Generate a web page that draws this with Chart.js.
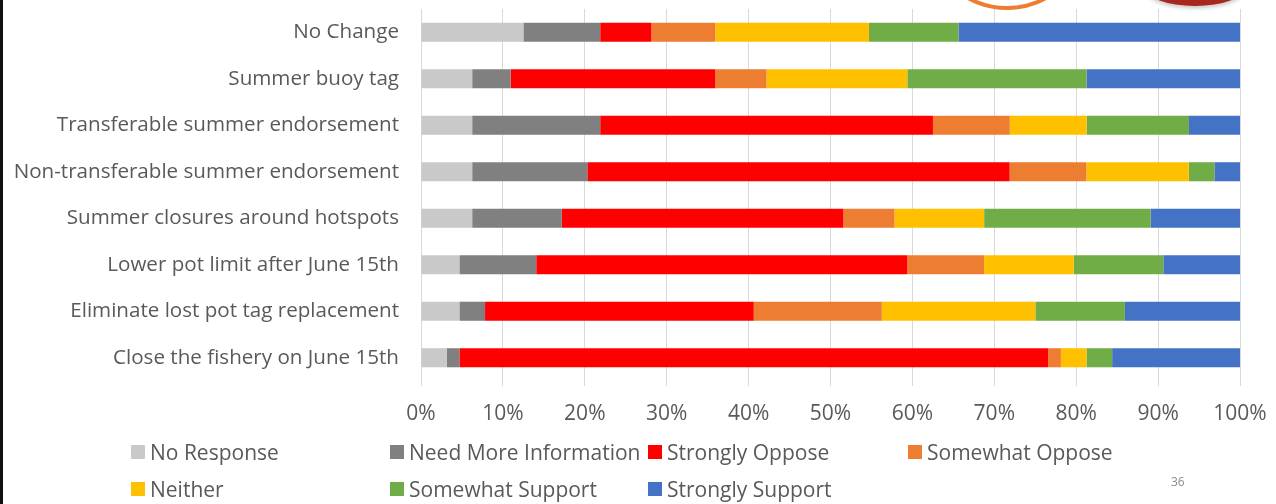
<!DOCTYPE html>
<html>
<head>
<meta charset="utf-8">
<script src="https://cdn.jsdelivr.net/npm/chart.js@4"></script>
<style>
    html, body { margin: 0; padding: 0; background: #fff; }
    body { width: 1276px; height: 504px; position: relative; overflow: hidden; font-family: "Open Sans", sans-serif; }
    #frame { position: absolute; left: 0; top: 0; width: 3px; height: 504px; background: #111; }
    #ring { position: absolute; left: 924px; top: -156px; width: 158px; height: 158px; border: 4px solid #ed7d31; border-radius: 50%; }
    #blob { position: absolute; left: 1145px; top: -32px; width: 100px; height: 38px; border-radius: 50%; background: #a8261d; box-shadow: 0 2px 4px rgba(0,0,0,0.25); }
    #chart-wrap { position: absolute; left: 0; top: 0; width: 1276px; height: 430px; }
    #legend { position: absolute; left: 0; top: 0; width: 1276px; height: 504px; pointer-events: none; }
    .item { position: absolute; height: 28px; display: flex; align-items: center; color: #595959; font-size: 21px; white-space: nowrap; }
    .box { width: 14px; height: 14px; margin-right: 5px; }
    #page-no { position: absolute; left: 1171px; top: 473px; font-size: 12px; color: #8c8c8c; }
</style>
</head>
<body>
<div id="chart-wrap"><canvas id="surveyChart"></canvas></div>
<div id="frame"></div>
<div id="ring"></div>
<div id="blob"></div>
<div id="legend"></div>
<div id="page-no">36</div>
<script>
// Options asked about (top to bottom)
const options = [
    'No Change',
    'Summer buoy tag',
    'Transferable summer endorsement',
    'Non-transferable summer endorsement',
    'Summer closures around hotspots',
    'Lower pot limit after June 15th',
    'Eliminate lost pot tag replacement',
    'Close the fishery on June 15th'
];

// Share of responses (%) per answer
const noResponse      = [12.5, 6.25, 6.25, 6.25, 6.25, 4.69, 4.69, 3.13];
const needMoreInfo    = [9.38, 4.69, 15.63, 14.06, 10.94, 9.38, 3.13, 1.56];
const stronglyOppose  = [6.25, 25.0, 40.63, 51.56, 34.38, 45.31, 32.81, 71.88];
const somewhatOppose  = [7.81, 6.25, 9.38, 9.38, 6.25, 9.38, 15.63, 1.56];
const neither         = [18.75, 17.19, 9.38, 12.5, 10.94, 10.94, 18.75, 3.13];
const somewhatSupport = [10.94, 21.88, 12.5, 3.13, 20.31, 10.94, 10.94, 3.13];
const stronglySupport = [34.38, 18.75, 6.25, 3.13, 10.94, 9.38, 14.06, 15.63];

const xTicks = [0, 10, 20, 30, 40, 50, 60, 70, 80, 90, 100];

const series = [
    { label: 'No Response', data: noResponse, color: '#c9c9c9' },
    { label: 'Need More Information', data: needMoreInfo, color: '#808080' },
    { label: 'Strongly Oppose', data: stronglyOppose, color: '#ff0000' },
    { label: 'Somewhat Oppose', data: somewhatOppose, color: '#ed7d31' },
    { label: 'Neither', data: neither, color: '#ffc000' },
    { label: 'Somewhat Support', data: somewhatSupport, color: '#70ad47' },
    { label: 'Strongly Support', data: stronglySupport, color: '#4472c4' }
];

const textColor = '#595959';

new Chart(document.getElementById('surveyChart'), {
    type: 'bar',
    data: {
        labels: options,
        datasets: series.map(s => ({
            label: s.label,
            data: s.data,
            backgroundColor: s.color,
            borderWidth: 0,
            barPercentage: 0.41,
            categoryPercentage: 1
        }))
    },
    options: {
        indexAxis: 'y',
        responsive: true,
        maintainAspectRatio: false,
        animation: false,
        layout: { padding: { left: 0, right: 36, top: 9, bottom: 0 } },
        plugins: {
            legend: { display: false },
            tooltip: { enabled: false }
        },
        scales: {
            x: {
                stacked: true,
                min: 0,
                max: 100,
                afterBuildTicks: (scale) => {
                    scale.ticks = xTicks.map(v => ({ value: v }));
                },
                afterFit: (scale) => {
                    scale.height = 49;
                    scale.paddingLeft = 0;
                    scale.paddingRight = 0;
                },
                ticks: {
                    color: textColor,
                    font: { family: 'Open Sans', size: 21 },
                    padding: 15,
                    maxRotation: 0,
                    callback: (v) => v + '%'
                },
                grid: { color: '#d9d9d9', lineWidth: 1, tickLength: 5 },
                border: { display: false }
            },
            y: {
                stacked: true,
                afterFit: (scale) => {
                    scale.width = 421;
                    scale.paddingTop = 0;
                    scale.paddingBottom = 0;
                },
                ticks: {
                    color: textColor,
                    font: { family: 'Open Sans', size: 20.6 },
                    padding: 14
                },
                grid: { display: false },
                border: { display: false }
            }
        }
    }
});

// Legend laid out in a 4-column grid like the original slide
const legend = document.getElementById('legend');
const colX = [131, 390, 648, 908];
const rowY = [438, 475];
series.forEach((s, i) => {
    const item = document.createElement('div');
    item.className = 'item';
    item.style.left = colX[i % 4] + 'px';
    item.style.top = rowY[Math.floor(i / 4)] + 'px';
    item.innerHTML = '<span class="box" style="background:' + s.color + '"></span><span>' + s.label + '</span>';
    legend.appendChild(item);
});
</script>
</body>
</html>
